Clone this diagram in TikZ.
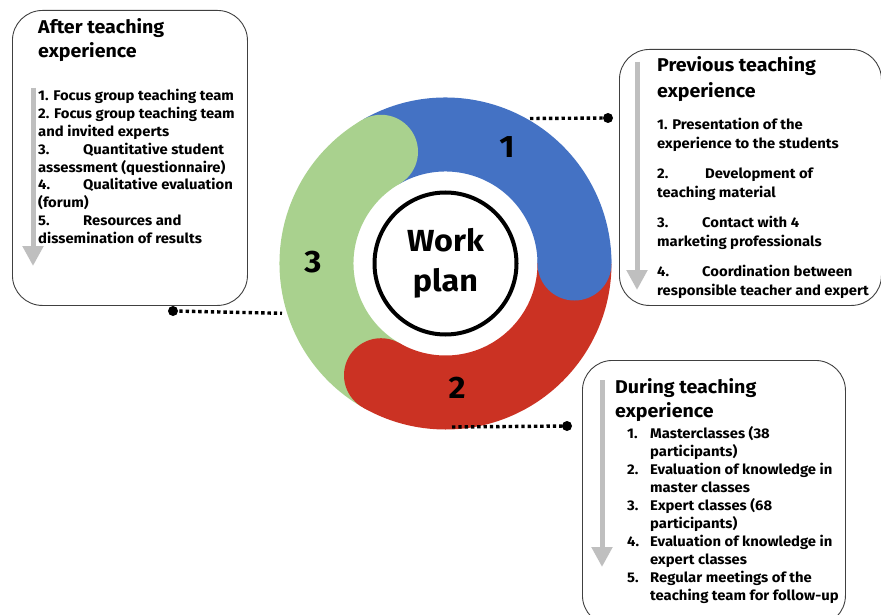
\documentclass[tikz,border=0pt]{standalone}
\usepackage{fontspec}
\setmainfont[FakeStretch=1.06]{Fira Sans}
\usetikzlibrary{arrows.meta,calc}
\definecolor{ringblue}{HTML}{4472C4}
\definecolor{ringred}{HTML}{CB3223}
\definecolor{ringgreen}{HTML}{A9D18E}
\definecolor{arrowgray}{HTML}{BFBFBF}
\definecolor{boxline}{HTML}{404040}
\newcommand{\tb}[2]{\makebox[#1][l]{#2}}
\begin{document}
\begin{tikzpicture}[x=1pt,y=-1pt,
  panel/.style={draw=boxline, line width=0.9pt, rounded corners=30pt, anchor=north west, inner sep=0pt},
  flowarrow/.style={draw=arrowgray, line width=5pt, -{Triangle[width=20pt,length=20pt]}},
  dotline/.style={line width=3.4pt, dash pattern=on 3.4pt off 2.9pt},
  enddot/.style={circle, fill=black, minimum size=10pt, inner sep=0pt},
  title/.style={font=\bfseries\fontsize{18.5}{24}\selectfont, anchor=base west, inner sep=0pt},
  body/.style={font=\bfseries\fontsize{14}{17.9}\selectfont, anchor=base west, inner sep=0pt},
  ringnum/.style={font=\bfseries\fontsize{31}{31}\selectfont, inner sep=0pt}]
\useasboundingbox (0,0) rectangle (881,615);
\fill[white] (0,0) rectangle (881,615);

% ring
\coordinate (c) at (445.5,263.5);
\draw[ringblue, line width=74pt] ($(c)+(-120:129)$) arc[start angle=-120, end angle=0, radius=129];
\draw[ringred, line width=74pt] ($(c)+(0:129)$) arc[start angle=0, end angle=120, radius=129];
\draw[ringgreen, line width=74pt] ($(c)+(120:129)$) arc[start angle=120, end angle=240, radius=129];
\fill[ringblue] ($(c)+(0:129)$) circle[radius=37];
\fill[ringred] ($(c)+(120:129)$) circle[radius=37];
\fill[ringgreen] ($(c)+(240:129)$) circle[radius=37];

\node[circle, draw=black, line width=4pt, minimum size=142pt, inner sep=0pt, align=center,
      font=\bfseries\fontsize{30.5}{40}\selectfont] (hub) at (c) {Work\\plan};
\node[ringnum] (n1) at (507,147) {1};
\node[ringnum] (n2) at (457,388) {2};
\node[ringnum] (n3) at (313,262) {3};

% boxes
\node[panel, minimum width=235pt, minimum height=295pt] (boxA) at (12,10) {};
\node[panel, minimum width=262pt, minimum height=256pt] (boxB) at (619,49) {};
\node[panel, minimum width=263pt, minimum height=265pt] (boxC) at (582,360) {};

% gray arrows
\coordinate (aA1) at (33,88);  \coordinate (aA2) at (33,266);
\coordinate (aB1) at (637,62); \coordinate (aB2) at (637,290);
\coordinate (aC1) at (602,380); \coordinate (aC2) at (602,567);
\draw[flowarrow] (aA1) -- (aA2);
\draw[flowarrow] (aB1) -- (aB2);
\draw[flowarrow] (aC1) -- (aC2);

% texts box A
\node[title] (tA) at (38,33.5) {\vtop{\hbox{After teaching}\hbox{experience}}};
\node[body] (bA) at (38,100.5) {\vtop{%
  \hbox{1. Focus group teaching team}
  \hbox{2. Focus group teaching team}
  \hbox{and invited experts}
  \hbox{\tb{45pt}{3.}Quantitative student}
  \hbox{assessment (questionnaire)}
  \hbox{\tb{45pt}{4.}Qualitative evaluation}
  \hbox{(forum)}
  \hbox{\tb{45pt}{5.}Resources and}
  \hbox{dissemination of results}}};

% texts box B
\node[title, font=\bfseries\fontsize{18.5}{26}\selectfont] (tB) at (657,72) {\vtop{\hbox{Previous teaching}\hbox{experience}}};
\node[body, font=\bfseries\fontsize{14}{19}\selectfont] (bB) at (657,129.5) {\vtop{%
  \hbox{1. Presentation of the}
  \hbox{experience to the students}
  \vskip11pt
  \hbox{\tb{48pt}{2.}Development of}
  \hbox{teaching material}
  \vskip11pt
  \hbox{\tb{45pt}{3.}Contact with 4}
  \hbox{marketing professionals}
  \vskip11pt
  \hbox{\tb{45pt}{4.}Coordination between}
  \hbox{responsible teacher and expert}}};

% texts box C
\node[title] (tC) at (615,393.5) {\vtop{\hbox{During teaching}\hbox{experience}}};
\node[body, font=\bfseries\fontsize{14}{18.1}\selectfont] (bC) at (627,438) {\vtop{%
  \hbox{\tb{23pt}{1.}Masterclasses (38}
  \hbox{\hspace*{23pt}participants)}
  \hbox{\tb{23pt}{2.}Evaluation of knowledge in}
  \hbox{\hspace*{23pt}master classes}
  \hbox{\tb{23pt}{3.}Expert classes (68}
  \hbox{\hspace*{23pt}participants)}
  \hbox{\tb{23pt}{4.}Evaluation of knowledge in}
  \hbox{\hspace*{23pt}expert classes}
  \hbox{\tb{23pt}{5.}Regular meetings of the}
  \hbox{\hspace*{23pt}teaching team for follow-up}}};

% dotted connectors
\coordinate (p1) at (530,118.5);
\node[enddot] (d1) at (608,118) {};
\coordinate (p2) at (452,427);
\node[enddot] (d2) at (567,426) {};
\coordinate (p3) at (282,313.3);
\node[enddot] (d3) at (173,311) {};
\draw[dotline] (p1) -- (d1.center);
\draw[dotline] (p2) -- (d2.center);
\draw[dotline] (d3.center) -- (p3);
\end{tikzpicture}
\end{document}
